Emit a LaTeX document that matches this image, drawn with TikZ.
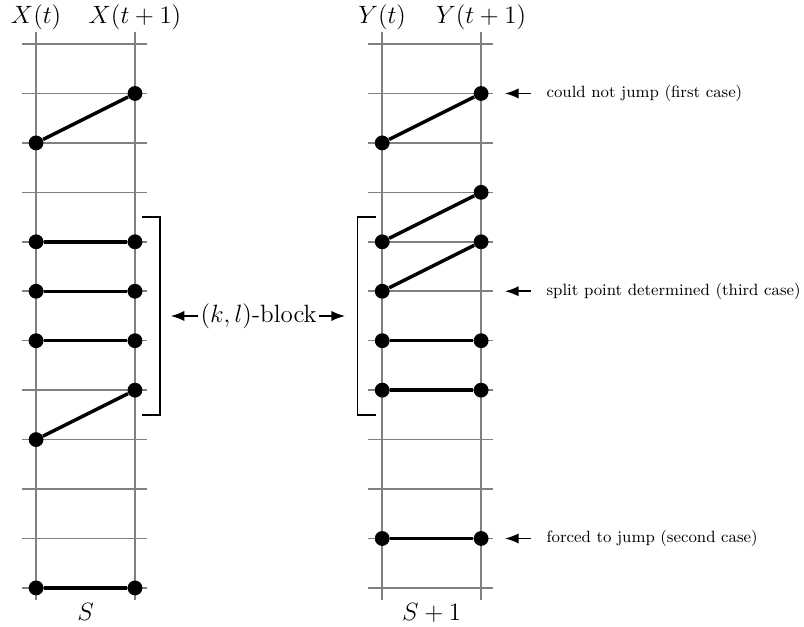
\documentclass[tikz,border=0pt]{standalone}
\usepackage{amsmath}
\usetikzlibrary{arrows.meta, positioning, calc}
\tikzset{
  gridline/.style={gray, line width=0.9pt},
  dot/.style={circle, fill=black, inner sep=0pt, minimum size=0.3cm},
  link/.style={line width=2pt},
  bracket/.style={line width=1.1pt},
  pointer/.style={->, line width=1.1pt},
  remark/.style={font=\fontsize{9.4pt}{11pt}\selectfont},
}

\begin{document}
\begin{tikzpicture}[>=Latex, font=\normalsize]
  \useasboundingbox (-0.73,0.89) rectangle (15.53,-11.77);

  % Gitter (links X, rechts Y)
  \foreach \x/\n in {0/X, 7/Y} {
    \foreach \k in {0,...,11}
      \draw[gridline] (\x-0.28,-\k) -- (\x+2.25,-\k);
    \draw[gridline] (\x,0.24) coordinate (\n top0) -- (\x,-11.24) coordinate (\n bot0);
    \draw[gridline] (\x+2,0.24) coordinate (\n top1) -- (\x+2,-11.24) coordinate (\n bot1);
  }

  % Spaltenbeschriftung
  \node[above, inner sep=1pt, font=\Large] (xt)  at (Xtop0) {$X(t)$};
  \node[above, inner sep=1pt, font=\Large] (xt1) at (Xtop1) {$X(t+1)$};
  \node[above, inner sep=1pt, font=\Large] (yt)  at (Ytop0) {$Y(t)$};
  \node[above, inner sep=1pt, font=\Large] (yt1) at (Ytop1) {$Y(t+1)$};
  \node[below, inner sep=2pt, font=\Large] (s)  at ($(Xbot0)!0.5!(Xbot1)$) {$S$};
  \node[below, inner sep=2pt, font=\Large] (s1) at ($(Ybot0)!0.5!(Ybot1)$) {$S+1$};

  % Punkte und Verbindungen links
  \foreach \i/\a/\b in {1/2/1, 2/4/4, 3/5/5, 4/6/6, 5/8/7, 6/11/11} {
    \node[dot] (xa\i) at (0,-\a) {};
    \node[dot] (xb\i) at (2,-\b) {};
    \draw[link] (xa\i) -- (xb\i);
  }

  % Punkte und Verbindungen rechts
  \foreach \i/\a/\b in {1/2/1, 2/4/3, 3/5/4, 4/6/6, 5/7/7, 6/10/10} {
    \node[dot] (ya\i) at (7,-\a) {};
    \node[dot] (yb\i) at (9,-\b) {};
    \draw[link] (ya\i) -- (yb\i);
  }

  % Klammern um den Block
  \draw[bracket] (2.14,-3.5) -- (2.5,-3.5) -- (2.5,-7.5) -- (2.14,-7.5);
  \draw[bracket] (6.87,-3.5) -- (6.5,-3.5) -- (6.5,-7.5) -- (6.87,-7.5);
  \coordinate (lbr) at (2.72,-5.5);
  \coordinate (rbr) at (6.25,-5.5);
  \node[font=\Large, inner sep=1pt] (blk) at (4.5,-5.5) {$(k,l)$-block};
  \draw[pointer] (blk.west) -- (lbr);
  \draw[pointer] (blk.east) -- (rbr);

  % Hinweise rechts
  \foreach \k/\n/\txt in {1/a/{could not jump (first case)},
                          5/b/{split point determined (third case)},
                          10/c/{forced to jump (second case)}} {
    \coordinate (tip\n) at (9.48,-\k);
    \coordinate (tail\n) at (10,-\k);
    \node[remark, right=0.2cm of tail\n] (note\n) {\txt};
    \draw[pointer] (tail\n) -- (tip\n);
  }
\end{tikzpicture}
\end{document}
